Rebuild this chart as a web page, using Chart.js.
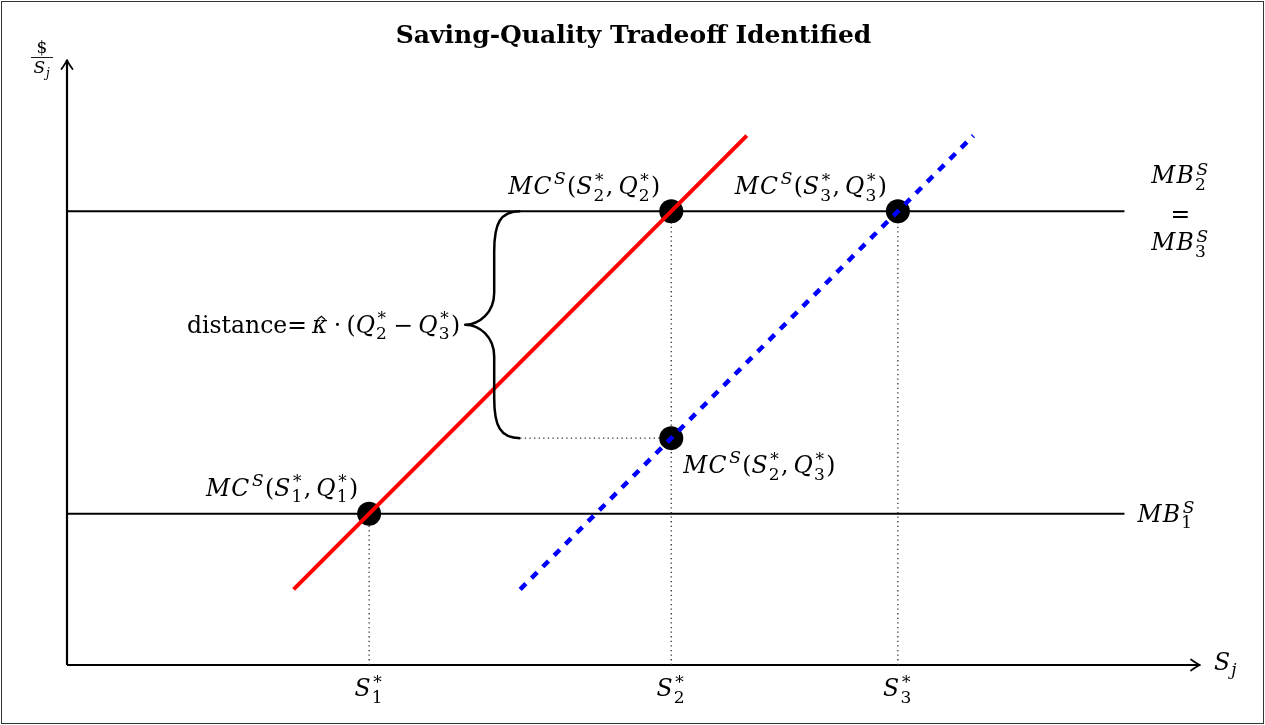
<!DOCTYPE html>
<html>
<head>
<meta charset="utf-8">
<script src="https://cdn.jsdelivr.net/npm/chart.js@4/dist/chart.umd.min.js"></script>
<style>
  html, body { margin: 0; padding: 0; background: #fff; }
  #wrap { width: 1265px; height: 725px; }
</style>
</head>
<body>
<div id="wrap"><canvas id="c" width="1265" height="725"></canvas></div>
<script>
// Axis extents: saving S_j on x, price $/S_j on y
const xRange = [0, 15];
const yRange = [0, 8];

// Equilibrium saving levels S1*, S2*, S3* and their tick labels
const sStar = [4, 8, 11];
const sStarLabels = ['S^{*}_{1}', 'S^{*}_{2}', 'S^{*}_{3}'];

// Marginal benefit levels: MB1 (low) and MB2 = MB3 (high)
const mbLevels = [2, 6];
const mbSpanX = [0, 14];

// Marginal cost schedule at quality Q1* = Q2* (solid red)
const mcHighX = [3, 9];
const mcHighY = [1, 7];

// Marginal cost schedule at quality Q3* (dashed blue)
const mcLowX = [6, 12];
const mcLowY = [1, 7];

// Marked marginal cost points and their labels
const eqX = [4, 8, 11, 8];
const eqY = [2, 6, 6, 3];
const eqLabels = [
  'MC^{S}(S^{*}_{1}, Q^{*}_{1})',
  'MC^{S}(S^{*}_{2}, Q^{*}_{2})',
  'MC^{S}(S^{*}_{3}, Q^{*}_{3})',
  'MC^{S}(S^{*}_{2}, Q^{*}_{3})'
];

// Vertical gap bracketed by the brace: from MB2 down to MC(S2*, Q3*)
const braceX = 6;
const braceY = [6, 3];
const braceLabel = '\\rm{distance}= \\hat{κ} · (Q^{*}_{2} − Q^{*}_{3})';

const SERIF = '"DejaVu Serif", "Liberation Serif", serif';
const MATH_SIZE = 23.5;

const pts = (xs, ys) => xs.map((x, i) => ({ x: x, y: ys[i] }));

// ---------- small math-text renderer (italics, super/subscripts) ----------
function parseMath(src) {
  const out = [];
  let i = 0;
  const readGroup = () => {
    let g;
    if (src[i] === '{') { const j = src.indexOf('}', i); g = src.slice(i + 1, j); i = j + 1; }
    else { g = src[i]; i++; }
    return g;
  };
  while (i < src.length) {
    const c = src[i];
    if (c === '^' || c === '_') {
      i++;
      const g = readGroup();
      const key = c === '^' ? 'sup' : 'sub';
      const last = out[out.length - 1];
      if (last && last.kind === 'script' && !last[key]) last[key] = g;
      else out.push({ kind: 'script', sup: key === 'sup' ? g : null, sub: key === 'sub' ? g : null });
      continue;
    }
    if (c === '\\') {
      const m = /^\\(rm|hat)\{([^}]*)\}/.exec(src.slice(i));
      if (m) {
        out.push({ kind: 'text', t: m[2], it: m[1] === 'hat', hat: m[1] === 'hat' });
        i += m[0].length;
        continue;
      }
    }
    if (c === ' ') { out.push({ kind: 'space' }); i++; continue; }
    out.push({ kind: 'text', t: c, it: /[A-Za-z\u03b1-\u03c9]/.test(c) });
    i++;
  }
  return out;
}

function fontFor(it, size, bold) {
  return (it ? 'italic ' : '') + (bold ? 'bold ' : '') + size + 'px ' + SERIF;
}

function layoutMath(ctx, runs, size) {
  let w = 0;
  const items = [];
  for (const r of runs) {
    if (r.kind === 'space') { w += size * 0.22; continue; }
    if (r.kind === 'text') {
      const f = fontFor(r.it, size);
      ctx.font = f;
      const tw = ctx.measureText(r.t).width;
      items.push({ x: w, dy: 0, t: r.t, font: f, hat: r.hat, w: tw, size: size });
      w += tw + (r.it && r.t.length === 1 ? size * 0.05 : 0);
      continue;
    }
    const ss = Math.round(size * 0.72);
    const both = r.sup && r.sub;
    let sw = 0;
    if (r.sup) {
      const f = fontFor(/[A-Za-z]/.test(r.sup), ss);
      ctx.font = f;
      const tw = ctx.measureText(r.sup).width;
      items.push({ x: w + 1.5, dy: -size * (both ? 0.36 : 0.42), t: r.sup, font: f, w: tw });
      sw = Math.max(sw, tw + 1.5);
    }
    if (r.sub) {
      const f = fontFor(/[A-Za-z]/.test(r.sub), ss);
      ctx.font = f;
      const tw = ctx.measureText(r.sub).width;
      items.push({ x: w, dy: size * (both ? 0.28 : 0.22), t: r.sub, font: f, w: tw });
      sw = Math.max(sw, tw);
    }
    w += sw + size * 0.06;
  }
  return { w: w, items: items };
}

function drawMath(ctx, src, x, y, align, size) {
  size = size || MATH_SIZE;
  const L = layoutMath(ctx, parseMath(src), size);
  const x0 = align === 'right' ? x - L.w : align === 'center' ? x - L.w / 2 : x;
  ctx.save();
  ctx.fillStyle = '#000';
  ctx.textAlign = 'left';
  ctx.textBaseline = 'alphabetic';
  for (const it of L.items) {
    ctx.font = it.font;
    ctx.fillText(it.t, x0 + it.x, y + it.dy);
    if (it.hat) {
      const cx = x0 + it.x + it.w * 0.6;
      const top = y - it.size * 0.7;
      ctx.beginPath();
      ctx.lineWidth = 1.1;
      ctx.strokeStyle = '#000';
      ctx.moveTo(cx - 4, top + 3.5);
      ctx.lineTo(cx, top);
      ctx.lineTo(cx + 4, top + 3.5);
      ctx.stroke();
    }
  }
  ctx.restore();
  return L.w;
}

// ---------- decorations drawn around the datasets ----------
const frame = {
  id: 'frame',
  beforeDraw(chart) {
    const ctx = chart.ctx;
    ctx.save();
    ctx.fillStyle = '#fff';
    ctx.fillRect(0, 0, chart.width, chart.height);
    ctx.restore();
  },
  afterDraw(chart) {
    const ctx = chart.ctx;
    ctx.save();
    ctx.strokeStyle = '#333';
    ctx.lineWidth = 1;
    ctx.strokeRect(1.5, 1.5, chart.width - 3, chart.height - 3);
    ctx.restore();
  }
};

function arrowHead(ctx, tipX, tipY, dirX, dirY) {
  // curved "->" style head
  const len = 9, half = 5.5;
  const nx = -dirY, ny = dirX;
  const bx = tipX - dirX * len, by = tipY - dirY * len;
  ctx.beginPath();
  ctx.moveTo(bx + nx * half, by + ny * half);
  ctx.quadraticCurveTo(tipX - dirX * 3 + nx * 1.2, tipY - dirY * 3 + ny * 1.2, tipX, tipY);
  ctx.quadraticCurveTo(tipX - dirX * 3 - nx * 1.2, tipY - dirY * 3 - ny * 1.2, bx - nx * half, by - ny * half);
  ctx.stroke();
}

const annotations = {
  id: 'annotations',
  afterDatasetsDraw(chart) {
    const ctx = chart.ctx;
    const xs = chart.scales.x, ys = chart.scales.y;
    const px = v => xs.getPixelForValue(v);
    const py = v => ys.getPixelForValue(v);

    ctx.save();
    ctx.strokeStyle = '#000';
    ctx.lineWidth = 1.8;
    ctx.lineCap = 'round';
    ctx.lineJoin = 'round';
    arrowHead(ctx, px(xRange[1]), py(0), 1, 0);
    arrowHead(ctx, px(0), py(yRange[1]), 0, -1);

    // curly brace between the two levels
    const bx = px(braceX), yTop = py(braceY[0]), yBot = py(braceY[1]);
    const yMid = (yTop + yBot) / 2;
    const vx = bx - 26, tipX = bx - 55;
    ctx.lineWidth = 2.5;
    ctx.lineCap = 'butt';
    ctx.beginPath();
    ctx.moveTo(bx, yTop);
    ctx.bezierCurveTo(bx - 20, yTop, vx, yTop + 12, vx, yTop + 40);
    ctx.lineTo(vx, yMid - 32);
    ctx.bezierCurveTo(vx, yMid - 12, tipX + 14, yMid, tipX, yMid);
    ctx.bezierCurveTo(tipX + 14, yMid, vx, yMid + 12, vx, yMid + 32);
    ctx.lineTo(vx, yBot - 40);
    ctx.bezierCurveTo(vx, yBot - 12, bx - 20, yBot, bx, yBot);
    ctx.stroke();
    ctx.restore();
  },
  afterDraw(chart) {
    const ctx = chart.ctx;
    const xs = chart.scales.x, ys = chart.scales.y;
    const px = v => xs.getPixelForValue(v);
    const py = v => ys.getPixelForValue(v);

    // labels of the marked points
    const place = [
      { dx: -11, dy: -18, a: 'right' },
      { dx: -11, dy: -17, a: 'right' },
      { dx: -11, dy: -17, a: 'right' },
      { dx: 12, dy: 35, a: 'left' }
    ];
    eqLabels.forEach((lab, i) => {
      drawMath(ctx, lab, px(eqX[i]) + place[i].dx, py(eqY[i]) + place[i].dy, place[i].a);
    });

    // marginal benefit labels at the right end of each level
    const mbx = px(mbSpanX[1]);
    drawMath(ctx, 'MB^{S}_{1}', mbx + 13, py(mbLevels[0]) + 8, 'left');
    const cx = mbx + 56;
    drawMath(ctx, 'MB^{S}_{2}', cx, py(mbLevels[1]) - 28, 'center');
    drawMath(ctx, '=', cx, py(mbLevels[1]) + 11, 'center');
    drawMath(ctx, 'MB^{S}_{3}', cx, py(mbLevels[1]) + 39, 'center');

    // tick labels on the saving axis
    sStar.forEach((s, i) => drawMath(ctx, sStarLabels[i], px(s), py(0) + 31, 'center'));

    // axis titles
    drawMath(ctx, 'S_{j}', px(xRange[1]) + 14, py(0) + 5, 'left');
    const fx = px(0) - 25, fy = py(yRange[1]);
    drawMath(ctx, '$', fx, fy - 7, 'center', 17);
    ctx.save();
    ctx.strokeStyle = '#000';
    ctx.lineWidth = 0.9;
    ctx.beginPath();
    ctx.moveTo(fx - 11, fy - 2.5);
    ctx.lineTo(fx + 11, fy - 2.5);
    ctx.stroke();
    ctx.restore();
    drawMath(ctx, 'S_{j}', fx, fy + 13, 'center', 17);

    // brace annotation
    const yMid = (py(braceY[0]) + py(braceY[1])) / 2;
    drawMath(ctx, braceLabel, px(braceX) - 60, yMid + 8, 'right');
  }
};

// ---------- datasets ----------
const blackLine = (data, order) => ({
  data: data, showLine: true, borderColor: '#000', borderWidth: 2,
  pointRadius: 0, fill: false, order: order, clip: false
});
const dotted = data => ({
  data: data, showLine: true, borderColor: '#333', borderWidth: 1.3,
  borderDash: [1.3, 3.3], pointRadius: 0, fill: false, order: 9, clip: false
});

const datasets = [
  // axes
  Object.assign(blackLine(pts(xRange, [0, 0]), 10), { borderWidth: 2.2 }),
  Object.assign(blackLine(pts([0, 0], yRange), 10), { borderWidth: 2.2 }),
  // marginal benefit levels
  blackLine(pts(mbSpanX, [mbLevels[0], mbLevels[0]]), 10),
  blackLine(pts(mbSpanX, [mbLevels[1], mbLevels[1]]), 10),
  // drop lines to the saving axis
  ...sStar.map((s, i) => dotted(pts([s, s], [0, eqY[i]]))),
  dotted(pts([braceX, eqX[3]], [eqY[3], eqY[3]])),
  // marked points
  {
    data: pts(eqX, eqY), showLine: false, pointRadius: 12, pointHoverRadius: 12,
    pointBackgroundColor: '#000', pointBorderWidth: 0, order: 5, clip: false
  },
  // marginal cost schedules
  {
    data: pts(mcHighX, mcHighY), showLine: true, borderColor: '#ff0000', borderWidth: 4,
    pointRadius: 0, fill: false, order: 1, clip: false, borderCapStyle: 'butt'
  },
  {
    data: pts(mcLowX, mcLowY), showLine: true, borderColor: '#0000ff', borderWidth: 4.5,
    borderDash: [8, 8], pointRadius: 0, fill: false, order: 2, clip: false, borderCapStyle: 'butt'
  }
];

new Chart(document.getElementById('c'), {
  type: 'scatter',
  data: { datasets: datasets },
  options: {
    responsive: false,
    animation: false,
    devicePixelRatio: 1,
    events: [],
    layout: { padding: { left: 67, right: 65, top: 0, bottom: 60 } },
    plugins: {
      legend: { display: false },
      tooltip: { enabled: false },
      title: {
        display: true,
        text: 'Saving-Quality Tradeoff Identified',
        color: '#000',
        font: { family: '"DejaVu Serif", serif', size: 25, weight: 'bold', lineHeight: 1.2 },
        padding: { top: 21, bottom: 9 }
      }
    },
    scales: {
      x: { type: 'linear', min: xRange[0], max: xRange[1], display: false },
      y: { type: 'linear', min: yRange[0], max: yRange[1], display: false }
    }
  },
  plugins: [frame, annotations]
});
</script>
</body>
</html>
